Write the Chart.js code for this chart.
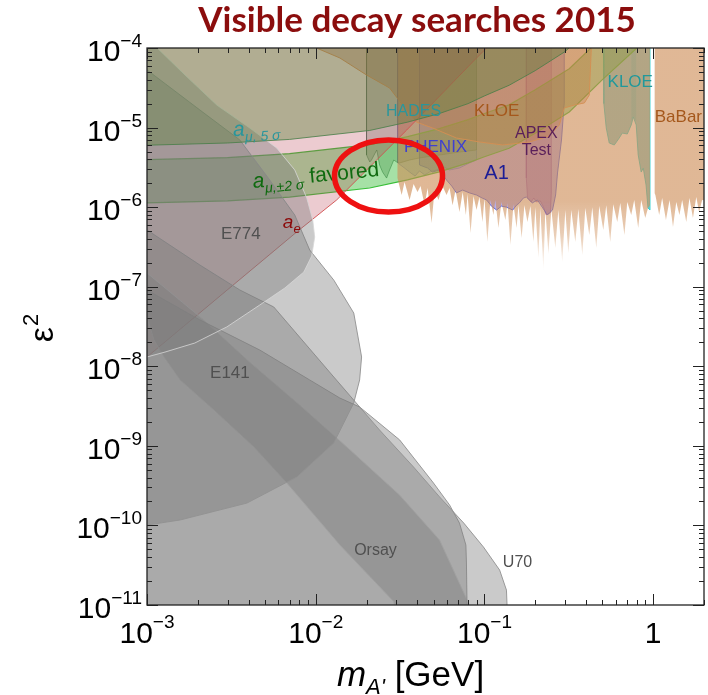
<!DOCTYPE html>
<html>
<head>
<meta charset="utf-8">
<script src="https://cdn.jsdelivr.net/npm/chart.js@4.4.1/dist/chart.umd.min.js"></script>
<style>
  html, body { margin: 0; padding: 0; background: #fff; }
  #wrap { width: 708px; height: 695px; }
</style>
</head>
<body>
<div id="wrap"><canvas id="c" width="708" height="695"></canvas></div>
<script>
// ---- Axis ticks -------------------------------------------------------
const xTickValues = [1e-3, 1e-2, 1e-1, 1];
const xTickLabels = [['10', '\u22123'], ['10', '\u22122'], ['10', '\u22121'], ['1', '']];
const yTickValues = [1e-4, 1e-5, 1e-6, 1e-7, 1e-8, 1e-9, 1e-10, 1e-11];
const yTickLabels = [['10', '\u22124'], ['10', '\u22125'], ['10', '\u22126'], ['10', '\u22127'],
                     ['10', '\u22128'], ['10', '\u22129'], ['10', '\u221210'], ['10', '\u221211']];

// ---- Constraint regions: mass m_A' [GeV] and epsilon^2 -----------------
// muon g-2, excluded at 5 sigma (everything above the curve)
const amu5Mass = [7e-4, 1e-3, 3e-3, 7e-3, 0.0209, 0.035, 0.054, 0.08, 0.1, 0.14, 0.2, 0.3, 0.34, 0.34, 7e-4];
const amu5Eps2 = [6.0e-6, 6.0e-6, 6.4e-6, 7.1e-6, 9.2e-6, 1.17e-5, 1.5e-5, 2.0e-5, 2.5e-5, 3.4e-5, 5.2e-5, 9.0e-5, 1.15e-4, 1.5e-4, 1.5e-4];

// muon g-2, +-2 sigma favoured band
const amu2UpperMass = [7e-4, 1e-3, 3e-3, 7e-3, 0.0209, 0.035, 0.054, 0.08, 0.1, 0.14, 0.2, 0.318, 0.427, 0.46];
const amu2UpperEps2 = [3.95e-6, 3.95e-6, 4.2e-6, 4.7e-6, 6.1e-6, 7.7e-6, 9.7e-6, 1.26e-5, 1.5e-5, 1.93e-5, 2.98e-5, 5.5e-5, 1.0e-4, 1.2e-4];
const amu2LowerMass = [0.88, 0.8, 0.5, 0.318, 0.2, 0.14, 0.1, 0.08, 0.054, 0.035, 0.0209, 7e-3, 3e-3, 1e-3, 7e-4];
const amu2LowerEps2 = [1.2e-4, 1.0e-4, 4.0e-5, 1.57e-5, 8.5e-6, 5.5e-6, 4.3e-6, 3.6e-6, 2.77e-6, 2.2e-6, 1.74e-6, 1.34e-6, 1.2e-6, 1.13e-6, 1.13e-6];

// electron g-2 (excluded above the line)
const aeMass = [7e-4, 1e-3, 7.72e-3, 1.33e-2, 3.46e-2, 8.97e-2, 0.103, 0.118, 7e-4];
const aeEps2 = [8.9e-9, 1.31e-8, 4.88e-7, 1.23e-6, 9.31e-6, 7.49e-5, 1.0e-4, 1.34e-4, 1.34e-4];

// beam dumps
const e774Mass = [1.04e-3, 1.15e-3, 1.68e-3, 2.59e-3, 4.06e-3, 5.87e-3, 7.51e-3, 8.85e-3, 9.6e-3, 9.86e-3,
                  9.46e-3, 8.5e-3, 6.56e-3, 4.66e-3, 2.97e-3, 1.92e-3, 1.28e-3, 1e-3, 7e-4, 7e-4];
const e774Eps2 = [1.26e-4, 1e-4, 4.58e-5, 1.92e-5, 9.89e-6, 5.54e-6, 2.93e-6, 1.30e-6, 6.89e-7, 4.21e-7,
                  2.43e-7, 1.53e-7, 9.63e-8, 5.89e-8, 3.12e-8, 1.96e-8, 1.51e-8, 1.31e-8, 1.2e-8, 1.5e-4];

const e141Mass = [7e-4, 1e-3, 2.06e-3, 3.55e-3, 5.34e-3, 7.51e-3, 9.21e-3, 1.28e-2, 1.68e-2, 1.87e-2,
                  1.82e-2, 1.68e-2, 1.28e-2, 7.72e-3, 3.91e-3, 1.57e-3, 1e-3, 7e-4];
const e141Eps2 = [1.0e-4, 5.3e-5, 1.66e-5, 6.98e-6, 2.19e-6, 7.96e-7, 2.89e-7, 1.21e-7, 4.67e-8, 1.31e-8,
                  6.73e-9, 3.46e-9, 1.09e-9, 4.06e-10, 1.91e-10, 1.17e-10, 1.01e-10, 9.5e-11];

const u70Mass = [7e-4, 1e-3, 2.06e-3, 3.55e-3, 5.64e-3, 1.28e-2, 2.39e-2, 3.8e-2, 5.42e-2, 7.54e-2,
                 9.86e-2, 0.123, 0.135, 0.137, 7e-4];
const u70Eps2 = [6.0e-7, 5.16e-7, 1.87e-7, 9.09e-8, 5.56e-8, 7.33e-9, 1.58e-9, 5.42e-10, 2.28e-10, 1.07e-10,
                 5.36e-11, 2.75e-11, 1.54e-11, 7e-12, 7e-12];

const orsayMass = [7e-4, 1e-3, 2.06e-3, 4.66e-3, 9.21e-3, 1.39e-2, 1.82e-2, 3.14e-2, 4.99e-2, 6.21e-2,
                   7.11e-2, 7.76e-2, 7.82e-2, 7.9e-2, 7e-4];
const orsayEps2 = [1.2e-7, 9.09e-8, 3.82e-8, 1.6e-8, 6.73e-9, 3.99e-9, 3.08e-9, 1.19e-9, 3.41e-10, 1.81e-10,
                   1.07e-10, 5.67e-11, 3.37e-11, 7e-12, 7e-12];

const e137Mass = [7e-4, 1e-3, 2.17e-3, 4.06e-3, 8.04e-3, 1.53e-2, 3.14e-2, 5.42e-2, 8.15e-2, 8.4e-2,
                  2.98e-2, 2.9e-2, 1.39e-2, 6.74e-3, 4.3e-3, 2.49e-3, 1.57e-3, 1.26e-3, 1.1e-3, 1e-3, 7e-4];
const e137Eps2 = [2.6e-7, 1.49e-7, 3.82e-8, 1.13e-8, 3.26e-9, 9.68e-10, 2.41e-10, 6.56e-11, 1e-11, 7e-12,
                  7e-12, 1.1e-11, 5.67e-11, 3.41e-10, 9.68e-10, 2.82e-9, 6.73e-9, 1.31e-8, 2.14e-8, 4.16e-8, 9e-8];

// collider / fixed-target resonance searches
const babarMass = [3.05e-2, 3.05e-2, 3.23e-2, 3.36e-2, 3.60e-2, 3.80e-2, 4.01e-2, 4.18e-2, 4.42e-2, 4.60e-2,
  4.86e-2, 5.06e-2, 5.34e-2, 5.64e-2, 5.96e-2, 6.21e-2, 6.47e-2, 6.74e-2, 7.11e-2, 7.43e-2,
  7.76e-2, 7.94e-2, 8.27e-2, 8.61e-2, 8.97e-2, 9.34e-2, 9.73e-2, 0.100, 0.104, 0.1085,
  0.113, 0.116, 0.121, 0.126, 0.133, 0.137, 0.1425, 0.1485, 0.155, 0.159,
  0.166, 0.1725, 0.1797, 0.1872, 0.195, 0.2003, 0.2087, 0.2145, 0.2234, 0.2296,
  0.2392, 0.249, 0.263, 0.274, 0.289, 0.3015, 0.314, 0.327, 0.3455, 0.36,
  0.38, 0.396, 0.418, 0.4355, 0.46, 0.479, 0.506, 0.527, 0.5565, 0.58,
  0.6122, 0.638, 0.675, 0.702, 0.741, 0.772, 0.815, 0.849, 0.897, 0.932, 0.957, 0.957];
const babarEps2 = [1.5e-4, 2.32e-6, 1.42e-6, 2.07e-6, 1.23e-6, 1.95e-6, 1.55e-6, 1.84e-6, 1.06e-6, 1.74e-6,
  6.32e-7, 1.64e-6, 1.23e-6, 1.84e-6, 1.42e-6, 1.74e-6, 1.06e-6, 1.64e-6, 8.69e-7, 1.55e-6,
  7.96e-7, 1.46e-6, 4.73e-7, 1.38e-6, 9.2e-7, 1.34e-6, 6.5e-7, 1.30e-6, 3.65e-7, 1.23e-6,
  7.96e-7, 1.23e-6, 5.47e-7, 1.16e-6, 6.89e-7, 1.13e-6, 3.34e-7, 1.09e-6, 5.47e-7, 1.06e-6,
  4.09e-7, 1.06e-6, 6.5e-7, 1.03e-6, 3.65e-7, 1.0e-6, 2.3e-7, 9.75e-7, 1.62e-7, 9.47e-7,
  2.58e-7, 9.47e-7, 3.06e-7, 9.2e-7, 2.04e-7, 9.2e-7, 2.65e-7, 9.2e-7, 3.65e-7, 9.47e-7,
  2.5e-7, 9.75e-7, 4.47e-7, 1.0e-6, 3.06e-7, 1.03e-6, 5.16e-7, 1.06e-6, 3.65e-7, 1.09e-6,
  6.5e-7, 1.13e-6, 4.47e-7, 1.16e-6, 7.96e-7, 1.23e-6, 5.47e-7, 1.23e-6, 7.3e-7, 9.75e-7, 1.06e-6, 1.5e-4];
const babarHighMass = [1.02, 1.02, 1.03, 1.085, 1.13, 1.19, 1.25, 1.31, 1.37, 1.43, 1.485,
  1.57, 1.64, 1.72, 1.80, 1.87, 1.95, 2.2, 2.2];
const babarHighEps2 = [1.5e-4, 1.5e-6, 1.42e-6, 7.96e-7, 1.30e-6, 6.89e-7, 1.23e-6, 5.62e-7, 1.16e-6, 7.96e-7, 1.23e-6,
  6.5e-7, 1.30e-6, 7.3e-7, 1.34e-6, 8.69e-7, 1.23e-6, 1.2e-6, 1.5e-4];

const kloeMass = [9.86e-3, 1.01e-2, 1.39e-2, 2.0e-2, 2.74e-2, 3.27e-2, 3.96e-2, 4.92e-2, 6.82e-2, 9.34e-2,
  0.128, 0.185, 0.242, 0.278, 0.297, 0.341, 0.391, 0.418, 0.43, 0.43];
const kloeEps2 = [1.5e-4, 1e-4, 7.49e-5, 4.58e-5, 3.14e-5, 1.92e-5, 1.17e-5, 9.89e-6, 7.39e-6, 6.59e-6,
  6.04e-6, 6.59e-6, 7.83e-6, 1.08e-5, 1.76e-5, 1.92e-5, 2.04e-5, 2.56e-5, 1.0e-4, 1.5e-4];

const hadesMass = [2.0e-2, 2.0e-2, 2.09e-2, 2.14e-2, 2.3e-2, 2.39e-2, 2.49e-2, 2.63e-2, 2.74e-2, 2.9e-2,
  3.02e-2, 3.14e-2, 3.6e-2, 4.12e-2, 5.42e-2, 7.11e-2, 8.97e-2, 8.97e-2];
const hadesEps2 = [1.5e-4, 4.52e-6, 3.69e-6, 3.91e-6, 5.23e-6, 3.39e-6, 2.76e-6, 2.32e-6, 2.93e-6, 3.91e-6,
  3.69e-6, 3.59e-6, 3.91e-6, 4.15e-6, 4.52e-6, 4.93e-6, 5.23e-6, 1.5e-4];

const phenixMass = [3.06e-2, 3.06e-2, 3.36e-2, 3.6e-2, 3.88e-2, 4.12e-2, 4.42e-2, 4.73e-2, 5.2e-2, 5.73e-2,
  6.21e-2, 7.11e-2, 8.15e-2, 8.97e-2, 8.97e-2];
const phenixEps2 = [1.5e-4, 3.59e-6, 3.10e-6, 2.76e-6, 2.46e-6, 2.85e-6, 2.54e-6, 2.76e-6, 2.93e-6, 3.2e-6,
  2.93e-6, 3.10e-6, 3.59e-6, 3.91e-6, 1.5e-4];

const a1Mass = [4.12e-2, 4.12e-2, 4.6e-2, 4.92e-2, 5.42e-2, 5.96e-2, 6.4e-2, 6.82e-2, 7.43e-2, 8.15e-2,
  8.97e-2, 9.7e-2, 0.103, 0.11, 0.118, 0.126, 0.135, 0.147, 0.155, 0.161,
  0.17, 0.177, 0.192, 0.206, 0.22, 0.236, 0.242, 0.253, 0.264, 0.271, 0.286, 0.297, 0.297];
const a1Eps2 = [1.5e-4, 3.39e-6, 3.1e-6, 2.76e-6, 2.93e-6, 2.19e-6, 1.84e-6, 1.51e-6, 1.64e-6, 1.51e-6,
  1.42e-6, 1.30e-6, 1.23e-6, 1.03e-6, 9.2e-7, 1.03e-6, 1.0e-6, 9.2e-7, 1.06e-6, 1.13e-6,
  1.30e-6, 1.34e-6, 1.13e-6, 1.23e-6, 1.0e-6, 7.96e-7, 8.44e-7, 9.2e-7, 1.42e-6, 2.69e-6, 6.98e-6, 2.04e-5, 1.5e-4];

const apexMass = [0.177, 0.177, 0.18, 0.189, 0.196, 0.203, 0.214, 0.223, 0.232, 0.246, 0.249, 0.249];
const apexEps2 = [1.5e-4, 2.32e-6, 1.31e-6, 1.16e-6, 1.30e-6, 1.16e-6, 1.20e-6, 1.02e-6, 8.0e-7, 8.5e-7, 1.5e-6, 1.5e-4];

const kloePhiMass = [0.506, 0.51, 0.527, 0.549, 0.588, 0.629, 0.656, 0.702, 0.741, 0.762,
  0.793, 0.815, 0.849, 0.873, 0.907, 0.932, 0.957, 0.957];
const kloePhiEps2 = [1.5e-4, 2.0e-5, 9.89e-6, 6.40e-6, 6.04e-6, 7.39e-6, 8.54e-6, 8.30e-6, 1.08e-5, 1.36e-5,
  1.08e-5, 4.52e-6, 2.76e-6, 3.10e-6, 1.90e-6, 9.75e-7, 9.2e-7, 1.5e-4];
const kloeStripMass = [0.741, 0.741, 0.762, 0.793, 0.793];
const kloeStripEps2 = [1.5e-4, 1.2e-5, 1.36e-5, 1.2e-5, 1.5e-4];

// ---- Region labels: text parts, mass, eps2 (baseline), colour, size, rotation ----
const regionLabels = [
  { parts: [['E774']], m: 3.6e-3, e: 3.98e-7, color: '#505050', size: 17 },
  { parts: [['E141']], m: 3.1e-3, e: 7.13e-9, color: '#505050', size: 17 },
  { parts: [['Orsay']], m: 2.26e-2, e: 4.25e-11, color: '#505050', size: 16 },
  { parts: [['U70']], m: 0.157, e: 3.0e-11, color: '#505050', size: 16 },
  { parts: [['HADES']], m: 3.8e-2, e: 1.40e-5, color: '#2a969c', size: 16 },
  { parts: [['KLOE']], m: 0.118, e: 1.40e-5, color: '#a5581c', size: 17 },
  { parts: [['PHENIX']], m: 5.13e-2, e: 4.93e-6, color: '#3f40d0', size: 17 },
  { parts: [['A1']], m: 0.118, e: 2.26e-6, color: '#1c1c96', size: 20 },
  { parts: [['APEX']], m: 0.203, e: 7.39e-6, color: '#5a1f5a', size: 16 },
  { parts: [['Test']], m: 0.203, e: 4.52e-6, color: '#5a1f5a', size: 16 },
  { parts: [['KLOE']], m: 0.731, e: 3.24e-5, color: '#21999b', size: 17 },
  { parts: [['BaBar']], m: 1.41, e: 1.17e-5, color: '#a5581c', size: 17 },
  { parts: [['a', 'i'], ['\u03bc, 5 \u03c3', 'is']], m: 4.48e-3, e: 8.06e-6, color: '#2a969c', size: 21, rot: -3 },
  { parts: [['a', 'i'], ['\u03bc,\u00b12 \u03c3', 'is'], [' favored', '']], m: 1.01e-2, e: 2.07e-6, color: '#0f6a0f', size: 21, rot: -5.5 },
  { parts: [['a', 'i'], ['e', 'is']], m: 7.21e-3, e: 5.47e-7, color: '#8c0a0a', size: 19 }
];
const highlight = { m: 2.70e-2, e: 2.46e-6 };

// ---- Styles ----
const GRAY = 'rgba(122,122,122,0.40)';
const GRAY_EDGE = 'rgba(145,145,145,0.9)';
const BABAR_TAN = 'rgba(205,140,85,0.62)';

function pts(ms, es) { return ms.map((m, i) => ({ x: m, y: es[i] })); }
function region(name, data, fill, edge, width) {
  return { label: name, data, fill: 'shape', backgroundColor: fill, borderColor: edge,
           borderWidth: width === undefined ? 1 : width, pointRadius: 0, tension: 0, clip: 0 };
}
function babarFill(ctx) {
  const ch = ctx.chart, ys = ch.scales && ch.scales.y;
  if (!ch.chartArea || !ys) return BABAR_TAN;
  const y0 = ys.getPixelForValue(1.2e-6), y1 = ys.getPixelForValue(1.6e-7);
  const g = ch.ctx.createLinearGradient(0, y0, 0, y1);
  g.addColorStop(0, BABAR_TAN);
  g.addColorStop(0.5, 'rgba(205,140,85,0.42)');
  g.addColorStop(1, 'rgba(205,140,85,0.04)');
  return g;
}

const datasets = [
  region('a_mu 5sigma', pts(amu5Mass, amu5Eps2), 'rgba(95,130,62,0.42)', 'rgba(70,125,70,0.8)', 1),
  region('E774', pts(e774Mass, e774Eps2), GRAY, 'rgba(215,215,215,0.8)', 1),
  region('E141', pts(e141Mass, e141Eps2), GRAY, GRAY_EDGE, 1),
  region('U70', pts(u70Mass, u70Eps2), GRAY, GRAY_EDGE, 1),
  region('Orsay', pts(orsayMass, orsayEps2), GRAY, GRAY_EDGE, 1),
  region('E137', pts(e137Mass, e137Eps2), GRAY, 'rgba(228,228,228,0.9)', 1),
  region('a_e', pts(aeMass, aeEps2), 'rgba(185,70,85,0.28)', 'rgba(210,80,80,0.9)', 1),
  region('BaBar', pts(babarMass, babarEps2), babarFill, 'rgba(0,0,0,0)', 0),
  region('BaBar high', pts(babarHighMass, babarHighEps2), babarFill, 'rgba(0,0,0,0)', 0),
  region('KLOE', pts(kloeMass, kloeEps2), 'rgba(165,95,30,0.33)', 'rgba(225,145,75,0.9)', 1),
  region('a_mu 2sigma', pts(amu2UpperMass.concat(amu2LowerMass), amu2UpperEps2.concat(amu2LowerEps2)),
         'rgba(20,175,20,0.38)', 'rgba(40,185,40,0.9)', 1.2),
  region('HADES', pts(hadesMass, hadesEps2), 'rgba(60,95,70,0.28)', 'rgba(60,100,80,0.5)', 1),
  region('PHENIX', pts(phenixMass, phenixEps2), 'rgba(30,130,220,0.25)', 'rgba(50,90,210,0.5)', 1),
  region('A1', pts(a1Mass, a1Eps2), 'rgba(95,80,215,0.45)', 'rgba(70,90,230,0.9)', 1),
  region('APEX', pts(apexMass, apexEps2), 'rgba(160,60,150,0.35)', 'rgba(150,60,150,0.6)', 1),
  region('KLOE phi', pts(kloePhiMass, kloePhiEps2), 'rgba(20,160,165,0.5)', 'rgba(40,205,205,0.9)', 1),
  region('KLOE strip', pts(kloeStripMass, kloeStripEps2), 'rgba(175,240,240,0.75)', 'rgba(0,0,0,0)', 0)
];

// ---- Drawing helpers ----
const SANS = '"Liberation Sans", Arial, sans-serif';
function richText(ctx, parts, x, y, size, color, rot) {
  ctx.save();
  ctx.translate(x, y);
  if (rot) ctx.rotate(rot * Math.PI / 180);
  ctx.fillStyle = color;
  ctx.textBaseline = 'alphabetic';
  ctx.textAlign = 'left';
  const spec = parts.map(p => {
    const st = p[1] || '';
    const sub = st.indexOf('s') >= 0;
    const it = st.indexOf('i') >= 0;
    const sz = sub ? Math.round(size * 0.66) : size;
    const font = (it ? 'italic ' : '') + sz + 'px ' + SANS;
    ctx.font = font;
    return { t: p[0], font, w: ctx.measureText(p[0]).width, dy: sub ? size * 0.28 : 0 };
  });
  const total = spec.reduce((s, p) => s + p.w, 0);
  let cx = -total / 2;
  spec.forEach(p => { ctx.font = p.font; ctx.fillText(p.t, cx, p.dy); cx += p.w; });
  ctx.restore();
}

const decorPlugin = {
  id: 'decor',
  afterDatasetsDraw(chart) {
    const { ctx, scales: { x, y } } = chart;
    regionLabels.forEach(l => richText(ctx, l.parts, x.getPixelForValue(l.m), y.getPixelForValue(l.e), l.size, l.color, l.rot));
    // highlight ring
    ctx.save();
    ctx.beginPath();
    ctx.ellipse(x.getPixelForValue(highlight.m), y.getPixelForValue(highlight.e), 54, 36, 0, 0, Math.PI * 2);
    ctx.strokeStyle = '#ee1111';
    ctx.lineWidth = 5.5;
    ctx.stroke();
    ctx.restore();
  },
  afterDraw(chart) {
    const { ctx, chartArea: a, scales: { x, y } } = chart;
    ctx.save();
    // frame
    ctx.strokeStyle = '#222';
    ctx.lineWidth = 1.3;
    ctx.strokeRect(a.left, a.top, a.right - a.left, a.bottom - a.top);
    // tick marks, inward on all four sides
    ctx.lineWidth = 1;
    ctx.beginPath();
    for (let d = 1e-3; d < 3; d *= 10) {
      for (let k = 1; k <= 9; k++) {
        const v = d * k;
        if (v > x.max * 1.0001) break;
        const px = Math.round(x.getPixelForValue(v)) + 0.5;
        const len = k === 1 ? 11 : 5;
        ctx.moveTo(px, a.bottom); ctx.lineTo(px, a.bottom - len);
        ctx.moveTo(px, a.top); ctx.lineTo(px, a.top + len);
      }
    }
    for (let d = 1e-11; d < 2e-4; d *= 10) {
      for (let k = 1; k <= 9; k++) {
        const v = d * k;
        if (v > y.max * 1.0001) break;
        const py = Math.round(y.getPixelForValue(v)) + 0.5;
        const len = k === 1 ? 11 : 5;
        ctx.moveTo(a.left, py); ctx.lineTo(a.left + len, py);
        ctx.moveTo(a.right, py); ctx.lineTo(a.right - len, py);
      }
    }
    ctx.stroke();

    // tick labels
    ctx.fillStyle = '#000';
    ctx.textBaseline = 'alphabetic';
    ctx.textAlign = 'left';
    const baseFont = '30px ' + SANS, expFont = '19px ' + SANS;
    xTickValues.forEach((v, i) => {
      const [b, e] = xTickLabels[i];
      ctx.font = baseFont; const wb = ctx.measureText(b).width;
      ctx.font = expFont; const we = e ? ctx.measureText(e).width : 0;
      const px = x.getPixelForValue(v);
      let sx = px - (wb + we) / 2;
      ctx.font = baseFont; ctx.fillText(b, sx, a.bottom + 38);
      if (e) { ctx.font = expFont; ctx.fillText(e, sx + wb, a.bottom + 23); }
    });
    yTickValues.forEach((v, i) => {
      const [b, e] = yTickLabels[i];
      ctx.font = baseFont; const wb = ctx.measureText(b).width;
      ctx.font = expFont; const we = ctx.measureText(e).width;
      const py = y.getPixelForValue(v);
      const sx = a.left - 5 - we - wb;
      ctx.font = baseFont; ctx.fillText(b, sx, py + 13);
      ctx.font = expFont; ctx.fillText(e, sx + wb, py - 1);
    });

    // x axis title: m_A' [GeV]
    const xt = [['m', 'italic 35px ' + SANS, 0], ['A\'', 'italic 22px ' + SANS, 8], [' [GeV]', '35px ' + SANS, 0]];
    let tw = 0;
    xt.forEach(p => { ctx.font = p[1]; p.push(ctx.measureText(p[0]).width); tw += p[3]; });
    let cx = (a.left + a.right) / 2 - 15 - tw / 2;
    xt.forEach(p => { ctx.font = p[1]; ctx.fillText(p[0], cx, 686 + p[2]); cx += p[3]; });

    // y axis title: epsilon^2
    ctx.save();
    ctx.translate(53, (a.top + a.bottom) / 2 + 2);
    ctx.rotate(-Math.PI / 2);
    ctx.font = '34px ' + SANS; const we1 = ctx.measureText('\u03b5').width;
    ctx.font = '22px ' + SANS; const we2 = ctx.measureText('2').width;
    let sx = -(we1 + we2) / 2;
    ctx.font = '34px ' + SANS; ctx.fillText('\u03b5', sx, 0);
    ctx.font = '22px ' + SANS; ctx.fillText('2', sx + we1 + 1, -15);
    ctx.restore();

    // title
    ctx.font = 'bold 35px Lato, ' + SANS;
    ctx.fillStyle = '#8b0d0d';
    ctx.textAlign = 'center';
    ctx.fillText('Visible decay searches 2015', 417, 32);
    ctx.restore();
  }
};

new Chart(document.getElementById('c'), {
  type: 'line',
  data: { datasets },
  options: {
    responsive: false,
    animation: false,
    devicePixelRatio: 1,
    layout: { padding: { left: 147, top: 48, right: 4, bottom: 90 } },
    scales: {
      x: { type: 'logarithmic', min: 1e-3, max: 2, display: false },
      y: { type: 'logarithmic', min: 1e-11, max: 1e-4, display: false }
    },
    plugins: { legend: { display: false }, tooltip: { enabled: false }, title: { display: false } },
    elements: { point: { radius: 0 }, line: { tension: 0 } }
  },
  plugins: [decorPlugin]
});
</script>
</body>
</html>
